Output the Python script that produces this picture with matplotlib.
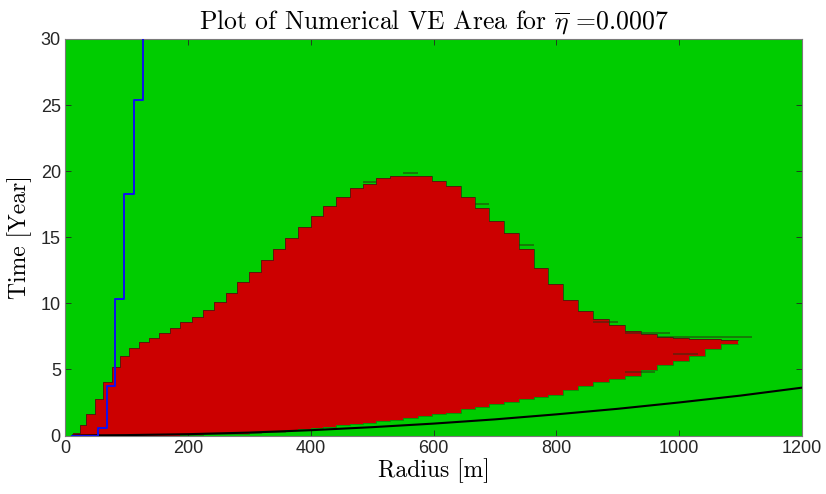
import matplotlib
matplotlib.use('Agg')
import matplotlib.pyplot as plt
import numpy as np

# radius grid edges of the numerical cells [m]
r_edges = [13.5, 24.5, 35, 49, 62, 76, 89.5, 105, 120.5, 137, 153.5, 171, 188, 206,
           224, 243, 262, 280, 299, 319, 338, 359, 379, 400, 420, 442, 464, 486,
           507, 529, 551, 575, 597, 620, 644, 667, 691, 715, 739, 763, 787, 811,
           836, 860, 886, 912, 938, 964, 990, 1016, 1042, 1068, 1095]

# upper / lower time limit of the VE area in every cell [year]
t_upper = [0.2, 0.78, 1.6, 2.77, 4.06, 5.15, 6.0, 6.6, 7.05, 7.4, 7.73, 8.15, 8.56,
           8.98, 9.47, 10.1, 10.8, 11.58, 12.37, 13.26, 14.11, 14.92, 15.78, 16.64,
           17.35, 18.05, 18.76, 19.02, 19.49, 19.67, 19.67, 19.6, 19.29, 18.89,
           18.08, 17.2, 16.23, 15.3, 14.09, 12.7, 11.44, 10.25, 9.42, 8.83, 8.33,
           7.9, 7.68, 7.48, 7.37, 7.32, 7.27, 7.22]
t_lower = [0, 0, 0, 0, 0, 0, 0, 0, 0, 0, 0, 0, 0.05, 0.06, 0.08, 0.1, 0.12, 0.15,
           0.19, 0.24, 0.3, 0.38, 0.48, 0.58, 0.67, 0.76, 0.86, 0.96, 1.08, 1.2,
           1.29, 1.46, 1.6, 1.74, 2.02, 2.17, 2.35, 2.55, 2.73, 2.92, 3.1, 3.48,
           3.76, 4.06, 4.25, 4.5, 4.96, 5.32, 5.63, 6.0, 6.58, 6.94]

# blue step line
r_blue = [11, 54, 68, 81, 96.5, 112.5, 127.5, 127.5]
t_blue = [0, 0.53, 3.76, 10.3, 18.26, 25.4, 30.5, 30.5]

# black line
r_black = [13, 100, 200, 300, 400, 500, 600, 700, 800, 900, 1000, 1100, 1200]
t_black = [0, 0.03, 0.1, 0.22, 0.4, 0.63, 0.9, 1.22, 1.6, 2.02, 2.5, 3.02, 3.62]

# dark edge artefacts along the border
art_t = [7.47, 7.73, 4.8, 6.2, 8.6, 19.85, 19.2, 17.5, 14.4]
art_r0 = [964, 912, 912, 990, 860, 551, 486, 667, 739]
art_r1 = [1118, 985, 960, 1030, 900, 575, 507, 691, 763]

plt.rcParams['mathtext.fontset'] = 'cm'
plt.rcParams['axes.unicode_minus'] = False

fig = plt.figure(figsize=(8.26, 4.94), dpi=100)
ax = fig.add_axes([65 / 826, (494 - 435.5) / 494, 737 / 826, 396.5 / 494])
ax.set_facecolor('#00cc00')

up = t_upper + [t_upper[-1]]
lo = t_lower + [t_lower[-1]]
ax.fill_between(r_edges, lo, up, step='post', color='#cc0000', lw=0, zorder=2)
ax.plot(r_edges, up, drawstyle='steps-post', color='#202a10', lw=0.6, alpha=0.8, zorder=3)
ax.plot(r_edges, lo, drawstyle='steps-post', color='#202a10', lw=0.5, alpha=0.5, zorder=3)
ax.hlines(art_t, art_r0, art_r1, colors='#2a3010', lw=1.2, alpha=0.6, zorder=3)

ax.plot(r_black, t_black, color='k', lw=1.5, zorder=4)
ax.plot(r_blue, t_blue, drawstyle='steps-post', color='#1010ee', lw=1.4, zorder=5)

ax.set_xlim(0, 1200)
ax.set_ylim(0, 30)
ax.set_xticks([0, 200, 400, 600, 800, 1000, 1200])
ax.set_yticks([0, 5, 10, 15, 20, 25, 30])
ax.tick_params(direction='in', top=True, right=True, length=4, width=0.6,
               colors='#262626', labelsize=13, pad=3)
for lab in ax.get_xticklabels() + ax.get_yticklabels():
    lab.set_family(['Liberation Sans Narrow', 'Liberation Sans'])
for sp in ax.spines.values():
    sp.set_color('#7a7a7a')
    sp.set_linewidth(0.8)

font1 = {'family': 'cmr10', 'size': 17}
ax.set_title(r'Plot of Numerical VE Area for $\overline{\eta}$ =0.0007',
             fontdict={'family': 'cmr10', 'size': 18.5}, pad=7)
ax.set_xlabel('Radius [m]', fontdict=font1, labelpad=1)
ax.set_ylabel('Time [Year]', fontdict=font1, labelpad=6)

fig.savefig('out.png', dpi=100)
